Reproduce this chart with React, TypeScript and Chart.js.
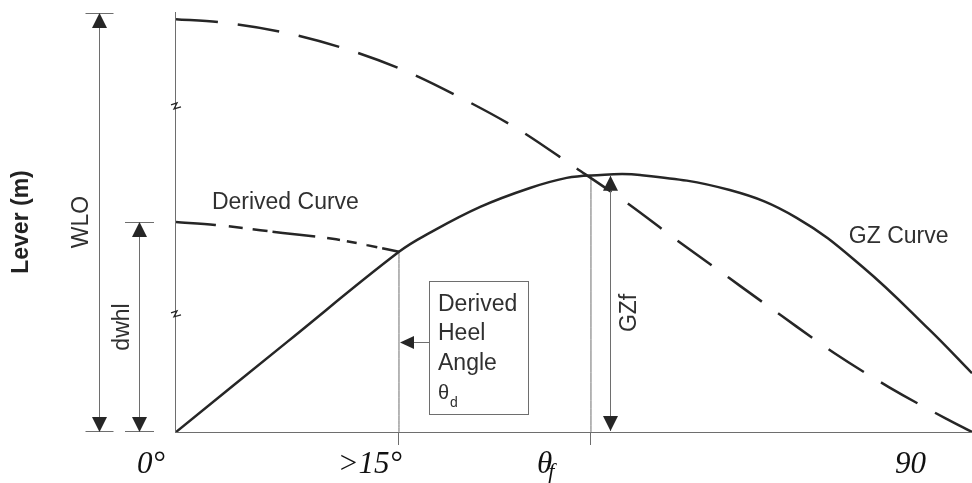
import React, { useEffect, useRef } from "react";
import { Chart, registerables } from "chart.js";

Chart.register(...registerables);

// ---- data (angle in diagram degrees, lever in relative units) ----
const GZ_ANGLE = [0, 13.6, 27.34, 31.1, 37.3, 43.4, 47.9, 50.9, 56.9, 67.9, 76.1, 84.2, 92.4, 97.6];
const GZ_LEVER = [0, 21.4, 42.9, 47.4, 53.6, 58.1, 60.5, 61.1, 61.2, 57.6, 51.0, 39.3, 24.3, 14.0];

const WLO_ANGLE = [0, 5.15, 13.1, 20.5, 28.1, 35.2, 42.1, 48.7, 55.1, 61.4, 67.8, 74.3, 80.7, 87.4, 94.3, 97.6];
const WLO_LEVER = [98.3, 97.6, 95.2, 91.4, 86.0, 79.3, 71.9, 63.3, 54.8, 45.7, 36.7, 27.6, 18.8, 10.7, 3.3, 0];

const DERIVED_ANGLE = [0, 4.8, 13.1, 19.2, 23.4, 27.34];
const DERIVED_LEVER = [50.0, 49.3, 47.4, 46.0, 44.5, 42.9];

const THETA_D = 27.34;
const THETA_F = 50.88;
const GZ_F = 61.0;
const WLO_VALUE = 100;
const DWHL_VALUE = 50;
const X_MAX = 97.6;

const TICK_VALUES = [0, THETA_D, THETA_F, 90];
const TICK_LABELS = ["0°", ">15°", "θ", "90"];
const TICK_SUBS = ["", "", "f", ""];

const BOX_LINES = ["Derived", "Heel", "Angle"];

const DARK = "#262626";
const GREY = "#6e6e6e";
const TEXT = "#303030";
const SANS = "'Liberation Sans', Arial, sans-serif";
const SERIF = "'Liberation Serif', 'Times New Roman', serif";

const pts = (xs: number[], ys: number[]) => xs.map((x, i) => ({ x, y: ys[i] }));

const annotationPlugin = {
  id: "gzAnnotations",
  afterDraw(chart: any) {
    const { ctx, chartArea: a, scales } = chart;
    const X = (v: number) => scales.x.getPixelForValue(v);
    const Y = (v: number) => scales.y.getPixelForValue(v);
    ctx.save();

    const head = (x: number, y: number, dir: string) => {
      ctx.beginPath();
      if (dir === "up") {
        ctx.moveTo(x, y); ctx.lineTo(x - 7.5, y + 15); ctx.lineTo(x + 7.5, y + 15);
      } else if (dir === "down") {
        ctx.moveTo(x, y); ctx.lineTo(x - 7.5, y - 15); ctx.lineTo(x + 7.5, y - 15);
      } else {
        ctx.moveTo(x, y); ctx.lineTo(x + 14, y - 6.5); ctx.lineTo(x + 14, y + 6.5);
      }
      ctx.closePath();
      ctx.fillStyle = DARK;
      ctx.fill();
    };
    const dim = (x: number, top: number, bottom: number, ext: number) => {
      ctx.strokeStyle = GREY;
      ctx.lineWidth = 1;
      ctx.beginPath();
      ctx.moveTo(x, top); ctx.lineTo(x, bottom);
      if (ext) {
        ctx.moveTo(x - ext, top + 0.5); ctx.lineTo(x + ext, top + 0.5);
        ctx.moveTo(x - ext, bottom - 0.5); ctx.lineTo(x + ext, bottom - 0.5);
      }
      ctx.stroke();
      head(x, top, "up");
      head(x, bottom, "down");
    };
    const vtext = (s: string, x: number, y: number) => {
      ctx.save();
      ctx.translate(x, y);
      ctx.rotate(-Math.PI / 2);
      ctx.font = `23px ${SANS}`;
      ctx.fillStyle = TEXT;
      ctx.textAlign = "center";
      ctx.textBaseline = "middle";
      ctx.fillText(s, 0, 0);
      ctx.restore();
    };

    // dimension arrows
    const wloX = Math.round(a.left) - 76.5;
    const dwhlX = Math.round(a.left) - 36.5;
    dim(wloX, Y(WLO_VALUE) + 1, Y(0), 14);
    dim(dwhlX, Y(DWHL_VALUE), Y(0), 14.5);
    vtext("WLO", wloX - 18, (Y(WLO_VALUE) + Y(0)) / 2);
    vtext("dwhl", dwhlX - 17, (Y(DWHL_VALUE) + Y(0)) / 2);

    const gzfX = Math.round(X(53.2)) + 0.5;
    dim(gzfX, Y(GZ_F), Y(0) - 1, 0);
    vtext("GZf", gzfX + 19, (Y(GZ_F) + Y(0)) / 2 + 9);

    // axis break marks
    ctx.strokeStyle = DARK;
    ctx.lineWidth = 1.3;
    [77.4, 27.9].forEach((v) => {
      const x = a.left;
      const y = Y(v);
      ctx.beginPath();
      ctx.moveTo(x - 5, y - 2);
      ctx.lineTo(x + 1, y - 4);
      ctx.lineTo(x - 2, y + 2);
      ctx.lineTo(x + 5, y);
      ctx.stroke();
    });

    // derived heel angle box
    const bx = Math.round(X(31.0)) + 0.5;
    const by = Math.round(Y(36.0)) + 0.5;
    ctx.strokeStyle = GREY;
    ctx.lineWidth = 1;
    ctx.strokeRect(bx, by, 99, 133);
    ctx.fillStyle = TEXT;
    ctx.textAlign = "left";
    ctx.textBaseline = "alphabetic";
    ctx.font = `23px ${SANS}`;
    BOX_LINES.forEach((s, i) => ctx.fillText(s, bx + 8.5, by + 29 + i * 29.5));
    ctx.font = `20px ${SANS}`;
    ctx.fillText("θ", bx + 8.5, by + 117);
    ctx.font = `14px ${SANS}`;
    ctx.fillText("d", bx + 20.5, by + 125);

    // arrow from box to theta_d line
    const ay = Math.round(Y(21.4)) + 0.5;
    const tip = Math.round(X(THETA_D)) + 1;
    ctx.strokeStyle = GREY;
    ctx.beginPath();
    ctx.moveTo(bx, ay);
    ctx.lineTo(tip + 12, ay);
    ctx.stroke();
    head(tip, ay, "left");

    // curve labels
    ctx.fillStyle = TEXT;
    ctx.font = `23px ${SANS}`;
    ctx.fillText("Derived Curve", X(4.4), Y(53.2));
    ctx.fillText("GZ Curve", X(82.5), Y(45.0));

    // x tick labels
    const offsets = [-11, 3, -54, -15];
    const aligns = ["right", "right", "left", "left"];
    const base = a.bottom + 41;
    TICK_VALUES.forEach((v, i) => {
      ctx.font = `italic 31px ${SERIF}`;
      ctx.fillStyle = "#111";
      ctx.textAlign = aligns[i];
      const x = X(v) + offsets[i];
      ctx.fillText(TICK_LABELS[i], x, base);
      if (TICK_SUBS[i]) {
        const w = ctx.measureText(TICK_LABELS[i]).width;
        ctx.font = `italic 22px ${SERIF}`;
        ctx.textAlign = "left";
        ctx.fillText(TICK_SUBS[i], x + w - 4, base + 5);
      }
    });

    ctx.restore();
  },
};

export default function App() {
  const ref = useRef<HTMLCanvasElement>(null);
  useEffect(() => {
    const line = (data: any, dash: number[] = [], width = 2.5, color = DARK, mono = true) => ({
      data,
      borderColor: color,
      borderWidth: width,
      borderDash: dash,
      pointRadius: 0,
      fill: false,
      tension: 0.4,
      cubicInterpolationMode: mono ? ("monotone" as const) : ("default" as const),
      borderJoinStyle: "round" as const,
    });
    const chart = new Chart(ref.current as HTMLCanvasElement, {
      type: "line",
      data: {
        datasets: [
          line(pts(GZ_ANGLE, GZ_LEVER), [], 2.5, DARK, false),
          line(pts(WLO_ANGLE, WLO_LEVER), [42, 20]),
          line(pts(DERIVED_ANGLE, DERIVED_LEVER), [40, 13, 14, 10, 15, 5, 43, 12, 13, 7, 10, 10, 11, 5, 40]),
          line([{ x: THETA_D, y: 0 }, { x: THETA_D, y: 42.9 }], [], 1, GREY),
          line([{ x: THETA_F, y: 0 }, { x: THETA_F, y: GZ_F }], [], 1, GREY),
        ],
      },
      options: {
        animation: false,
        responsive: false,
        devicePixelRatio: 1,
        layout: { padding: { top: 12, right: 0, bottom: 38, left: 0 } },
        plugins: { legend: { display: false }, tooltip: { enabled: false } },
        scales: {
          x: {
            type: "linear",
            min: 0,
            max: X_MAX,
            afterBuildTicks: (axis: any) => {
              axis.ticks = TICK_VALUES.map((value) => ({ value }));
            },
            ticks: { display: false },
            grid: {
              display: true,
              drawOnChartArea: false,
              drawTicks: true,
              tickLength: 13,
              lineWidth: 1,
              color: (c: any) =>
                c.tick && (c.tick.value === THETA_D || c.tick.value === THETA_F) ? GREY : "rgba(0,0,0,0)",
            },
            border: { display: true, color: GREY, width: 1 },
          },
          y: {
            type: "linear",
            min: 0,
            max: 100,
            ticks: { display: false },
            grid: { display: false, drawTicks: false },
            border: { display: true, color: GREY, width: 1 },
            title: {
              display: true,
              text: "Lever (m)",
              color: "#222",
              font: { family: SANS, size: 23, weight: "bold" },
              padding: { top: 8.2, bottom: 140.2 },
            },
          },
        },
      },
      plugins: [annotationPlugin],
    } as any);
    return () => chart.destroy();
  }, []);
  return (
    <div style={{ position: "absolute", left: 0, top: 0, width: 972, height: 483, background: "#fff" }}>
      <canvas ref={ref} width={972} height={483} style={{ display: "block" }} />
    </div>
  );
}
